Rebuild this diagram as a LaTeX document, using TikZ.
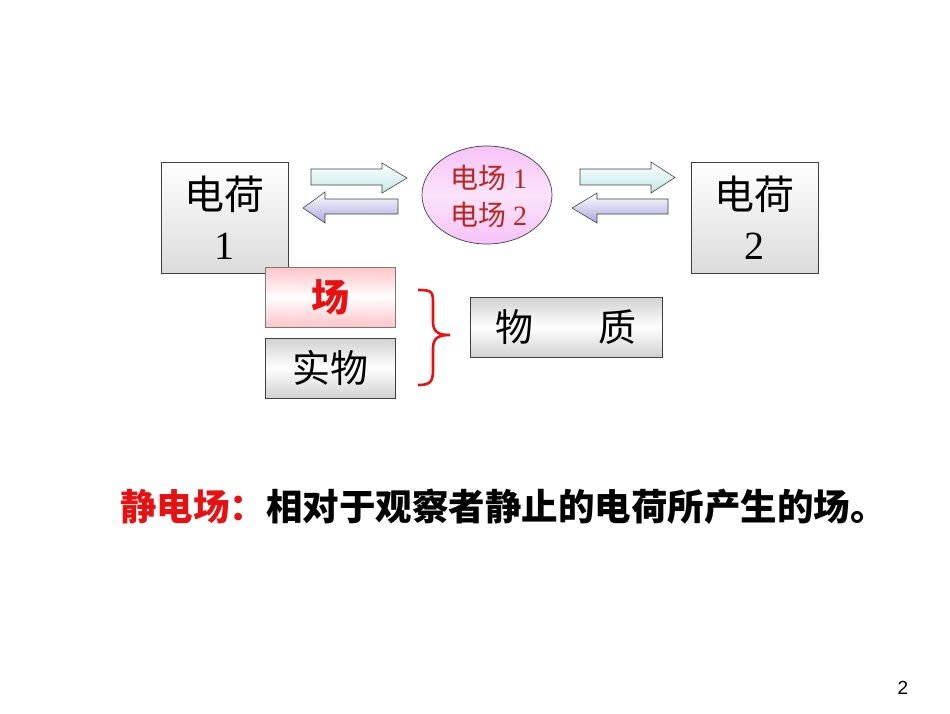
\documentclass[tikz,border=0pt]{standalone}
\usepackage{fontspec}
\setmainfont{Liberation Serif}
\newfontfamily\cjk{Noto Sans CJK SC}
\newfontfamily\pgsans{Liberation Sans}
\definecolor{boxline}{HTML}{404040}
\definecolor{fieldred}{HTML}{B8281E}
\definecolor{brightred}{HTML}{E81010}
\definecolor{pinkfill}{HTML}{F6C2F6}
\definecolor{rosefill}{HTML}{FFC4C8}
\definecolor{cyanfill}{HTML}{C0E8E8}
\definecolor{lavfill}{HTML}{A8A8E0}
\tikzset{
  chargebox/.style={draw=boxline, line width=0.8pt, top color=white, bottom color=black!14, align=center, inner sep=0pt},
  flatbox/.style={draw=boxline, line width=0.8pt, top color=black!18, bottom color=black!18, middle color=white, inner sep=0pt, minimum width=130pt, minimum height=60pt},
  rosebox/.style={draw=boxline!70, line width=0.8pt, top color=rosefill, bottom color=rosefill, middle color=white, inner sep=0pt, minimum width=130pt, minimum height=60pt},
  rarrow/.style={draw=boxline, line width=0.6pt, top color=white, bottom color=cyanfill},
  larrow/.style={draw=boxline, line width=0.6pt, top color=white, bottom color=lavfill},
}
\begin{document}
\begin{tikzpicture}[x=1pt,y=-1pt]
\useasboundingbox (0,0) rectangle (950,713);
% charge boxes
\node[chargebox, minimum width=127pt, minimum height=111pt, font=\fontsize{40}{50}\selectfont] (q1) at (224.5,217.5) {\cjk 电荷\\1};
\node[chargebox, minimum width=127pt, minimum height=111pt, font=\fontsize{40}{50}\selectfont] (q2) at (754.5,217.5) {\cjk 电荷\\2};
% ellipse
\path[draw=boxline, line width=0.7pt, top color=pinkfill, bottom color=pinkfill, middle color=white!55!pinkfill] (487,195) ellipse [x radius=65, y radius=49];
\node[font=\fontsize{28}{37}\selectfont, text=fieldred, align=center] (ef) at (489,196.5) {\cjk 电场 {\rmfamily 1}\\\cjk 电场 {\rmfamily 2}};
% block arrows left
\path[rarrow] (311,169) -- (382,169) -- (382,163) -- (407,178) -- (382,193) -- (382,185) -- (311,185) -- cycle;
\path[larrow] (398,199) -- (325,199) -- (325,192) -- (303,208) -- (325,223) -- (325,214) -- (398,214) -- cycle;
% block arrows right
\path[rarrow] (580,169) -- (651,169) -- (651,162) -- (675,177.5) -- (651,193) -- (651,185) -- (580,185) -- cycle;
\path[larrow] (668,199) -- (597,199) -- (597,193) -- (572,208) -- (597,223) -- (597,214) -- (668,214) -- cycle;
% field / matter boxes
\node[rosebox, font=\fontsize{38}{40}\selectfont, text=brightred] (fld) at (330,297) {\cjk\bfseries 场};
\node[flatbox, font=\fontsize{38}{40}\selectfont] (mat) at (330,368) {\cjk 实物};
\node[flatbox, minimum width=192pt, font=\fontsize{38}{40}\selectfont] (wz) at (566,327) {\cjk 物\hspace{66pt}质};
% brace
\draw[brightred, line width=2.6pt] (418,290) .. controls (433,290) and (433,292) .. (433,305) -- (433,322) .. controls (433,333) and (440,335) .. (450,335) .. controls (440,335) and (433,337) .. (433,348) -- (433,370) .. controls (433,382) and (430,385) .. (418,385);
% definition line
\node[anchor=west, inner sep=0pt, font=\fontsize{36.5}{40}\selectfont] (def) at (120,507) {\cjk\bfseries{\color{brightred}静电场：}相对于观察者静止的电荷所产生的场。};
% page number
\node[font=\pgsans\fontsize{19}{20}\selectfont] (pg) at (903,688) {2};
\end{tikzpicture}
\end{document}
